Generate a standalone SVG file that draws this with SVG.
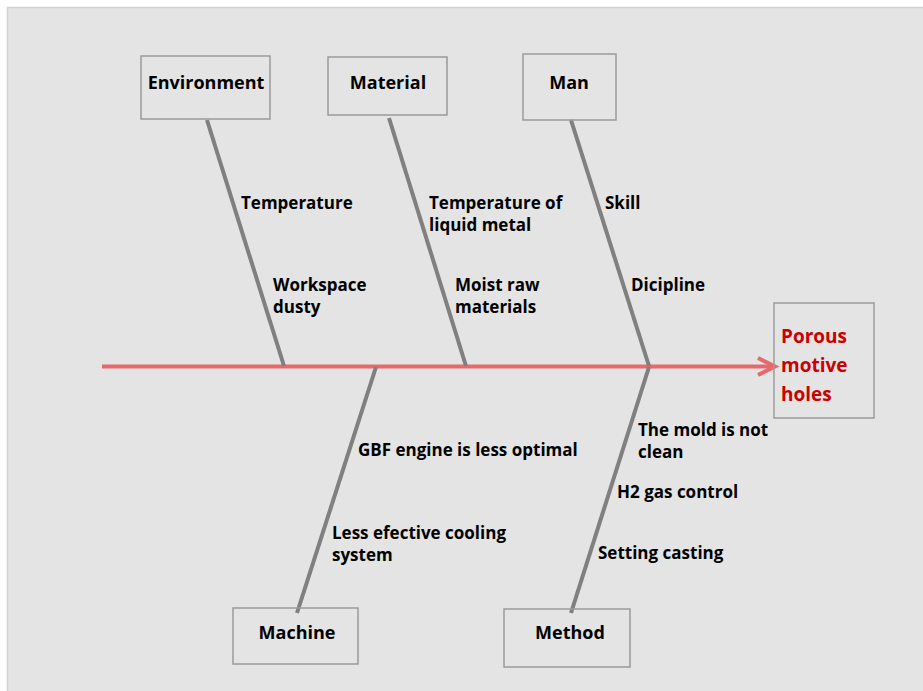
<svg xmlns="http://www.w3.org/2000/svg" width="923" height="691" viewBox="0 0 923 691">
<defs>
<style>
.bg{fill:#e4e4e4;stroke:#d2d2d2;stroke-width:1.5}
.box{fill:none;stroke:#9a9a9a;stroke-width:1.5}
.bone{stroke:#808080;stroke-width:4;fill:none;stroke-linecap:butt}
.spine{stroke:#e8696b;stroke-width:4;fill:none}
.lbl{font-family:"Open Sans","Noto Sans","DejaVu Sans",sans-serif;font-weight:700;font-size:17px;fill:#000}
.head{font-family:"Open Sans","Noto Sans","DejaVu Sans",sans-serif;font-weight:700;font-size:18px;fill:#000;text-anchor:middle}
.eff{font-family:"Open Sans","Noto Sans","DejaVu Sans",sans-serif;font-weight:700;font-size:19px;fill:#cc0000}
</style>
</defs>
<rect x="0" y="0" width="923" height="691" fill="#ffffff"/>
<rect class="bg" x="7.5" y="7.5" width="920" height="690"/>
<g id="connectors">
<line class="spine" x1="102" y1="366.5" x2="773" y2="366.5"/>
<polyline class="spine" points="758,358 775,366.5 758,375" stroke-linejoin="miter"/>
<line class="bone" x1="207" y1="120" x2="284" y2="366"/>
<line class="bone" x1="389" y1="118" x2="466" y2="366"/>
<line class="bone" x1="571" y1="120" x2="649" y2="366"/>
<line class="bone" x1="376" y1="367" x2="297" y2="613"/>
<line class="bone" x1="649" y1="367" x2="571" y2="613"/>
</g>
<g id="environment">
<rect class="box" x="141" y="56" width="129" height="63"/>
<text class="head" x="206" y="89">Environment</text>
</g>
<g id="material">
<rect class="box" x="328" y="57" width="119" height="58"/>
<text class="head" x="388" y="89">Material</text>
</g>
<g id="man">
<rect class="box" x="523" y="54" width="93" height="66"/>
<text class="head" x="569" y="89">Man</text>
</g>
<g id="machine">
<rect class="box" x="233" y="608" width="125" height="56"/>
<text class="head" x="297" y="639">Machine</text>
</g>
<g id="method">
<rect class="box" x="504" y="609" width="126" height="58"/>
<text class="head" x="570" y="639">Method</text>
</g>
<g id="effect">
<rect class="box" x="774" y="303" width="100" height="115"/>
<text class="eff" x="781" y="343">Porous</text>
<text class="eff" x="781" y="372">motive</text>
<text class="eff" x="781" y="401">holes</text>
</g>
<g id="causes">
<text class="lbl" x="241" y="209">Temperature</text>
<text class="lbl" x="273" y="291">Workspace</text>
<text class="lbl" x="273" y="313">dusty</text>
<text class="lbl" x="429" y="209">Temperature of</text>
<text class="lbl" x="429" y="231">liquid metal</text>
<text class="lbl" x="455" y="291">Moist raw</text>
<text class="lbl" x="455" y="313">materials</text>
<text class="lbl" x="605" y="209">Skill</text>
<text class="lbl" x="631" y="291">Dicipline</text>
<text class="lbl" x="358" y="456">GBF engine is less optimal</text>
<text class="lbl" x="332" y="539">Less efective cooling</text>
<text class="lbl" x="332" y="561">system</text>
<text class="lbl" x="638" y="436">The mold is not</text>
<text class="lbl" x="638" y="458">clean</text>
<text class="lbl" x="617" y="498">H2 gas control</text>
<text class="lbl" x="598" y="559">Setting casting</text>
</g>
</svg>
